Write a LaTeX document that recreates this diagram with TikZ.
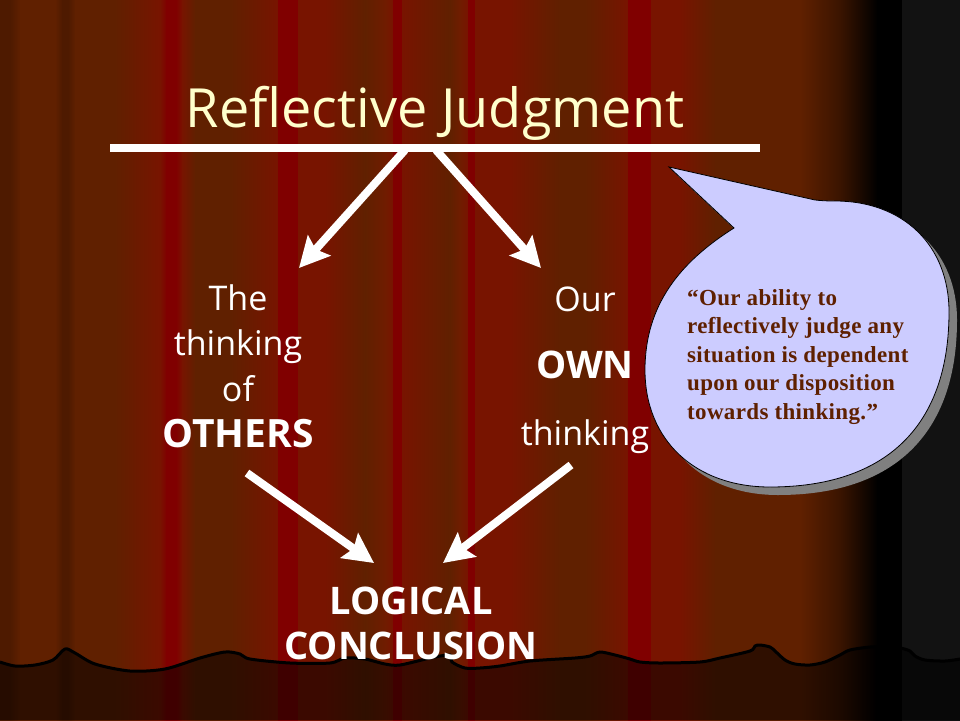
\documentclass[tikz,border=0pt]{standalone}
\usepackage{fontspec}
\setmainfont{Open Sans}
\newfontfamily\quotefont[LetterSpace=1.5]{Liberation Serif}
\usetikzlibrary{arrows.meta}
\definecolor{curtdark}{HTML}{4E1A00}
\definecolor{curtbrown}{HTML}{602000}
\definecolor{curtmid}{HTML}{701C00}
\definecolor{curtred}{HTML}{800000}
\definecolor{curtlite}{HTML}{781400}
\definecolor{wingdark}{HTML}{3A1400}
\definecolor{winggrey}{HTML}{121212}
\definecolor{titlecream}{HTML}{FFFFCC}
\definecolor{bubblefill}{HTML}{CCCCFF}
\definecolor{bubbletext}{HTML}{5E2000}
\tikzset{
         bigarrow/.style={white,line width=8pt,-{Stealth[length=30pt,width=30pt,inset=5pt]}},
         labeltext/.style={white,align=center,inner sep=0pt},
         bubbleshape/.style={line width=.8pt}
        }
\newcommand{\bigbold}[1]{\textbf{\fontsize{38}{45}\selectfont #1}}
\newcommand{\bubblepath}{(669,167) -- (815,200) .. controls (825,201) and (830,201) .. (835,201) .. controls (903,201) and (949,245) .. (949,312) .. controls (949,426) and (886,487) .. (770,487) .. controls (695,487) and (645,440) .. (645,370) .. controls (645,305) and (680,262) .. (734,228) -- cycle}
\newcommand{\hempath}{plot[smooth,tension=.5] coordinates {(0,662) (15,666) (35,665) (53,660) (65,649) (75,653) (95,664) (130,671) (165,669) (200,658) (225,652) (240,654) (250,659) (290,663) (330,663) (345,658) (365,659) (385,664) (400,665) (430,658) (450,655) (452,662) (465,668) (480,668) (500,666) (530,661) (575,658) (590,656) (600,652) (615,655) (630,659) (640,662) (660,663) (700,662) (720,658) (750,651) (755,646) (760,645) (770,647) (775,651) (785,660) (795,664) (810,665) (825,662) (840,655) (850,650) (870,647) (885,647) (900,648) (910,651) (915,656) (925,660) (945,661) (960,659)}}
\begin{document}
\begin{tikzpicture}[x=1pt,y=-1pt]
\useasboundingbox (0,0) rectangle (960,720);

\foreach \xa/\xb/\ca/\cb in {0/10/curtdark/curtdark,10/20/curtdark/curtbrown,20/55/curtbrown/curtbrown,55/62/curtbrown/curtdark,62/68/curtdark/curtdark,68/75/curtdark/curtbrown,75/115/curtbrown/curtbrown,115/160/curtbrown/curtlite,160/166/curtlite/curtred,166/176/curtred/curtred,176/182/curtred/curtlite,182/195/curtlite/curtbrown,195/230/curtbrown/curtbrown,230/278/curtbrown/curtlite,278/298/curtred/curtred,298/325/curtlite/curtlite,325/365/curtlite/curtbrown,365/385/curtbrown/curtmid,385/393/curtmid/curtlite,393/402/curtred/curtred,402/450/curtlite/curtbrown,450/460/curtbrown/curtmid,460/468/curtmid/curtlite,468/475/curtred/curtred,475/510/curtlite/curtlite,510/560/curtlite/curtbrown,560/585/curtbrown/curtbrown,585/628/curtbrown/curtlite,628/651/curtred/curtred,651/680/curtlite/curtlite,680/715/curtlite/curtbrown,715/800/curtbrown/curtbrown,800/840/curtbrown/wingdark,840/877/wingdark/black,877/902/black/black,902/960/winggrey/winggrey}
 \shade[left color=\ca,right color=\cb] (\xa,0) rectangle (\xb+0.5,720); %curtain stripes

\fill[black,opacity=.5] \hempath -- (960,720) -- (0,720) -- cycle; %lower curtain
\draw[black,line width=3pt] \hempath; %hem

\coordinate (ruleleft) at (110,148);
\coordinate (ruleright) at (760,148);
\coordinate (startothers) at (405,150);
\coordinate (tipothers) at (299,268);
\coordinate (startown) at (436,150);
\coordinate (tipown) at (541,268);
\coordinate (leaveothers) at (247,473);
\coordinate (tipleft) at (374,563);
\coordinate (leaveown) at (571,465);
\coordinate (tipright) at (443,563);

\node[anchor=base,titlecream,inner sep=0pt,font=\fontsize{54}{60}\selectfont] (title) at (435,127){Reflective Judgment};
\draw[white,line width=8pt] (ruleleft)--(ruleright);

\node[labeltext,font=\fontsize{34}{45.7}\selectfont] (others) at (238,366){The\\thinking\\of\\\textbf{\fontsize{39}{45}\selectfont OTHERS}};
\node[labeltext,font=\fontsize{34}{67}\selectfont] (own) at (585,370){Our\\\bigbold{OWN}\\thinking};
\node[labeltext,font=\fontsize{34}{45}\selectfont] (conclusion) at (411,623){\bigbold{LOGICAL}\\\bigbold{CONCLUSION}};

\draw[bigarrow] (startothers)--(tipothers);
\draw[bigarrow] (startown)--(tipown);
\draw[bigarrow] (leaveothers)--(tipleft);
\draw[bigarrow] (leaveown)--(tipright);

\fill[gray,shift={(8,8)}] \bubblepath; %shadow
\draw[bubbleshape,fill=bubblefill,draw=black] \bubblepath; %bubble
\node[anchor=north west,inner sep=0pt,align=left,text=bubbletext,font=\quotefont\bfseries\fontsize{23}{28.5}\selectfont] (quote) at (687,289){“Our ability to\\reflectively judge any\\situation is dependent\\upon our disposition\\towards thinking.”};
\end{tikzpicture}
\end{document}
